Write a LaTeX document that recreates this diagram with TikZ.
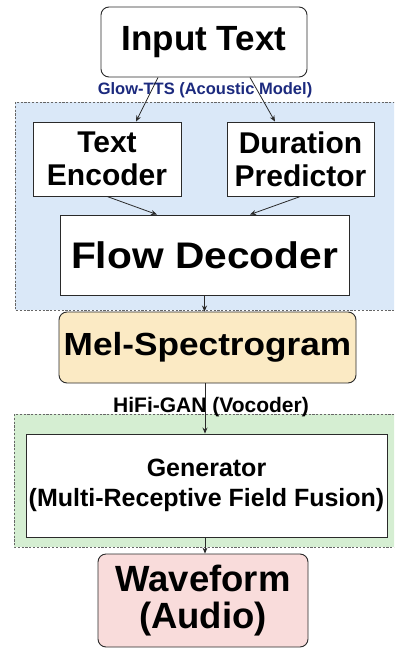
\documentclass[tikz,border=0pt]{standalone}
\usepackage{fontspec}
\setmainfont{Liberation Sans}
\usetikzlibrary{arrows.meta}
\definecolor{regblue}{HTML}{DAE8F8}
\definecolor{reggreen}{HTML}{D5EED2}
\definecolor{melfill}{HTML}{FBEAC4}
\definecolor{wavefill}{HTML}{F9DCDB}
\definecolor{navy}{HTML}{1C2A7E}
\definecolor{edge}{HTML}{2A2A2A}
\newcommand{\fsz}[2]{\fontsize{#1}{#2}\selectfont\bfseries}
\tikzset{
  region/.style={draw=gray!80!black, dash pattern=on 2.2pt off 1.6pt, line width=0.7pt},
  box/.style={draw=edge, line width=0.9pt, fill=white, inner sep=0pt, align=center},
  rbox/.style={box, rounded corners=8pt},
  flow/.style={draw=edge, line width=0.8pt, -{Stealth[length=6pt,width=5pt]}},
  lbl/.style={inner sep=0pt, anchor=base}
}
\begin{document}
\begin{tikzpicture}[x=1pt,y=-1pt]
\useasboundingbox (0,0) rectangle (394,648);
\fill[white] (0,0) rectangle (394,648);
% regions
\begin{scope}
\clip (0,0) rectangle (394,648);
\draw[region, fill=regblue] (15,102) rectangle (398,310);
\draw[region, fill=reggreen] (14,414) rectangle (398,547);
\end{scope}
% boxes
\node[rbox, minimum width=206pt, minimum height=70pt, font=\fsz{35}{40}] (in) at (204,42) {Input Text};
\node[box, minimum width=148pt, minimum height=74pt, font=\fsz{30}{33.4}] (te) at (107,159) {Text\\Encoder};
\node[box, minimum width=147pt, minimum height=74pt, font=\fsz{30}{33.4}] (dp) at (300.5,159) {Duration\\Predictor};
\node[box, minimum width=289pt, minimum height=80pt, font=\fsz{37}{40}] (fd) at (204.5,255) {\scalebox{1.1}[1]{Flow Decoder}};
\node[rbox, fill=melfill, minimum width=297pt, minimum height=71pt, font=\fsz{32}{36}] (mel) at (207.5,347.5) {\scalebox{1.1}[1]{Mel-Spectrogram}};
\node[box, minimum width=361pt, minimum height=103pt, font=\fsz{25}{30.7}] (gen) at (206.5,485.5) {Generator\\(Multi-Receptive Field Fusion)};
\node[rbox, fill=wavefill, minimum width=210pt, minimum height=93pt, font=\fsz{36.5}{37}] (wav) at (203,600.5) {Waveform\\(Audio)};
% labels
\node[lbl, text=navy, font=\fsz{16.5}{20}] (glow) at (205,94.3) {Glow-TTS (Acoustic Model)};
\node[lbl, font=\fsz{21}{24}] (hifi) at (211,412.7) {HiFi-GAN (Vocoder)};
% connectors
\draw[flow] ([xshift=-46pt]in.south) -- ([xshift=29pt]te.north);
\draw[flow] ([xshift=46pt]in.south) -- ([xshift=-25.5pt]dp.north);
\draw[flow] (te.south) -- ([xshift=-47.5pt]fd.north);
\draw[flow] (dp.south) -- ([xshift=45.5pt]fd.north);
\draw[flow] (fd.south) -- (fd.south |- mel.north);
\draw[flow] ([xshift=-2.5pt]mel.south) -- ([xshift=-1.5pt]gen.north);
\draw[flow] ([xshift=-1.5pt]gen.south) -- ([xshift=2pt]wav.north);
\end{tikzpicture}
\end{document}
